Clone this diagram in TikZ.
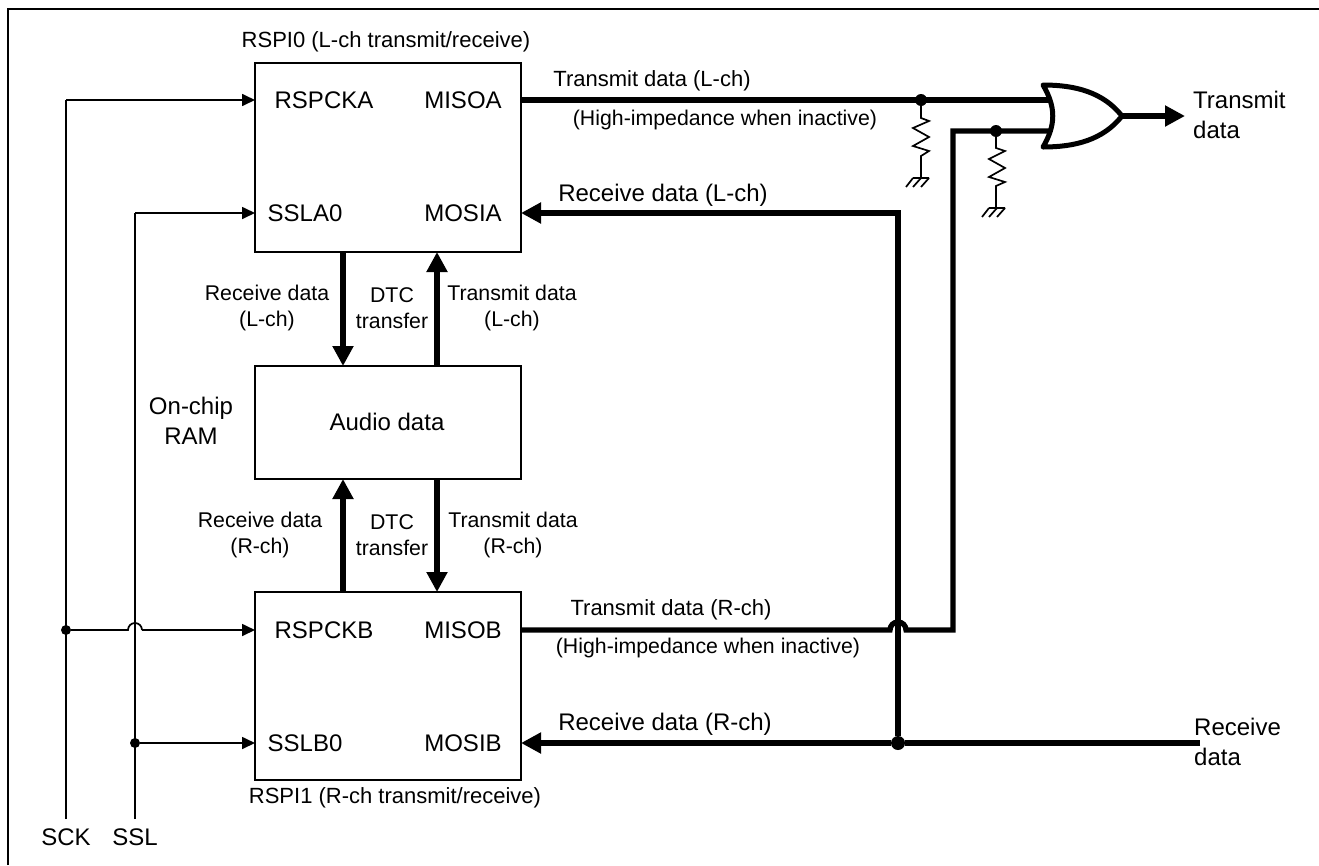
\documentclass[tikz,border=0pt]{standalone}
\usepackage{fontspec}
\setmainfont{Liberation Sans}
\usetikzlibrary{arrows.meta}
\begin{document}
\begin{tikzpicture}[x=1pt,y=-1pt]
	\tikzset{block/.style = {shape=rectangle,draw,line width=1.7pt,minimum width=266pt,anchor=north west,inner sep=0pt,outer sep=0pt},
		lbl/.style = {inner sep=0pt,font=\fontsize{24}{30}\selectfont,align=center},
		mid/.style = {inner sep=0pt,font=\fontsize{22}{28}\selectfont,align=center},
		small/.style = {inner sep=0pt,font=\fontsize{21.3}{26}\selectfont,align=center},
		thin wire/.style = {line width=1.7pt,-{Triangle[length=13pt,width=12pt]}},
		thick wire/.style = {line width=5.3pt,-{Triangle[length=20pt,width=20pt]}},
		bus/.style = {line width=5.3pt},
		wire/.style = {line width=1.7pt},
		dot/.style = {shape=circle,fill=black,inner sep=0pt,minimum size=#1}}

	\useasboundingbox (0,0) rectangle (1319,865);
	\draw[line width=2.3pt] (8,865) -- (8,9) -- (1319,9);

	\node[block,minimum height=189pt] (RSPI_0) at (255,63) {};
	\node[block,minimum height=113pt] (RAM) at (255,366) {};
	\node[block,minimum height=188pt] (RSPI_1) at (255,592) {};

	\node[mid] (title_0) at (386,42) {RSPI0 (L-ch transmit/receive)};
	\node[mid] (title_1) at (395,798) {RSPI1 (R-ch transmit/receive)};
	\node[lbl] (audio) at (387,422) {Audio data};
	\node[lbl] (onchip) at (191,421) {On-chip\\RAM};

	\node[lbl] (RSPCKA) at (324,100) {RSPCKA};
	\node[lbl] (SSLA0) at (305,213) {SSLA0};
	\node[lbl] (MISOA) at (463,100) {MISOA};
	\node[lbl] (MOSIA) at (463,213) {MOSIA};
	\node[lbl] (RSPCKB) at (324,630) {RSPCKB};
	\node[lbl] (SSLB0) at (305,743) {SSLB0};
	\node[lbl] (MISOB) at (463,630) {MISOB};
	\node[lbl] (MOSIB) at (463,743) {MOSIB};

	\node[mid] (tx_l) at (652,81) {Transmit data (L-ch)};
	\node[small] (hiz_l) at (725,120) {(High-impedance when inactive)};
	\node[lbl] (rx_l) at (663,195) {Receive data (L-ch)};
	\node[mid] (tx_r) at (671,610) {Transmit data (R-ch)};
	\node[small] (hiz_r) at (708,648) {(High-impedance when inactive)};
	\node[lbl] (rx_r) at (665,724) {Receive data (R-ch)};
	\node[small] (up_rx) at (267,308) {Receive data\\(L-ch)};
	\node[small] (up_dtc) at (392,308) {DTC\\transfer};
	\node[small] (up_tx) at (512,308) {Transmit data\\(L-ch)};
	\node[small] (lo_rx) at (260,535) {Receive data\\(R-ch)};
	\node[small] (lo_dtc) at (392,535) {DTC\\transfer};
	\node[small] (lo_tx) at (513,535) {Transmit data\\(R-ch)};
	\node[lbl,align=left,anchor=west] (out_tx) at (1193,115) {Transmit\\data};
	\node[lbl,align=left,anchor=west] (in_rx) at (1194,742) {Receive\\data};
	\node[lbl] (SCK) at (66,837) {SCK};
	\node[lbl] (SSL) at (135,837) {SSL};

	\coordinate (sck_top) at (66,100);
	\coordinate (ssl_top) at (135,213);
	\coordinate (sck_end) at (66,819);
	\coordinate (ssl_end) at (135,819);
	\node[dot=10pt] (sck_dot) at (66,630) {};
	\node[dot=10pt] (ssl_dot) at (135,743) {};

	\draw[wire] (sck_end) -- (sck_top);
	\draw[thin wire] (sck_top) -- (255,100);
	\draw[wire] (ssl_end) -- (ssl_top);
	\draw[thin wire] (ssl_top) -- (255,213);
	\draw[wire] (sck_dot) -- (128,630) arc (180:360:7) -- (142,630);
	\draw[thin wire] (142,630) -- (255,630);
	\draw[thin wire] (ssl_dot) -- (255,743);

	\draw[thick wire] (343,252) -- (343,366);
	\draw[thick wire] (437,366) -- (437,252);
	\draw[thick wire] (343,592) -- (343,479);
	\draw[thick wire] (437,479) -- (437,592);

	\node[dot=14pt] (rx_dot) at (898,743) {};
	\coordinate (in_end) at (1200,743);
	\coordinate (rx_corner) at (898,213);
	\draw[bus] (in_end) -- (rx_dot);
	\draw[thick wire] (rx_dot) -- (521,743);
	\draw[bus] (rx_dot) -- (rx_corner);
	\draw[thick wire] (rx_corner) ++(2.65,0) -- (521,213);

	\node[dot=12pt] (tx_l_dot) at (921,100) {};
	\node[dot=12pt] (tx_r_dot) at (996,131) {};
	\coordinate (or_a) at (1052,100);
	\coordinate (or_b) at (1052,131);
	\coordinate (tx_r_corner) at (953,131);
	\coordinate (tx_r_low) at (953,630);
	\draw[bus] (521,100) -- (or_a);
	\draw[bus,line join=miter] (or_b) -- (tx_r_corner) -- (tx_r_low) -- (906,630)
		arc (0:-180:8) -- (521,630);

	\draw[line width=5pt,line join=round,fill=white] (1043,85)
		.. controls (1075,85) and (1103,92) .. (1122,116)
		.. controls (1103,140) and (1075,147) .. (1043,147)
		.. controls (1056,125) and (1056,107) .. (1043,85) -- cycle;
	\coordinate (or_out) at (1122,116);
	\coordinate (out_end) at (1185,116);
	\draw[thick wire] (or_out) -- (out_end);

	\draw[wire,line join=miter] (tx_l_dot) -- (921,118) -- (929,121) -- (913,128) -- (929,137)
		-- (913,146) -- (929,151) -- (921,156) -- (921,178);
	\draw[wire] (929,178) -- (913,178) (913,178) -- (906,187) (921,178) -- (913,187) (929,178) -- (921,187);
	\draw[wire,line join=miter] (tx_r_dot) -- (996,148) -- (1005,151) -- (989,159) -- (1005,168)
		-- (989,177) -- (1005,182) -- (996,186) -- (996,208);
	\draw[wire] (1005,208) -- (989,208) (989,208) -- (982,217) (997,208) -- (989,217) (1005,208) -- (997,217);
\end{tikzpicture}
\end{document}
